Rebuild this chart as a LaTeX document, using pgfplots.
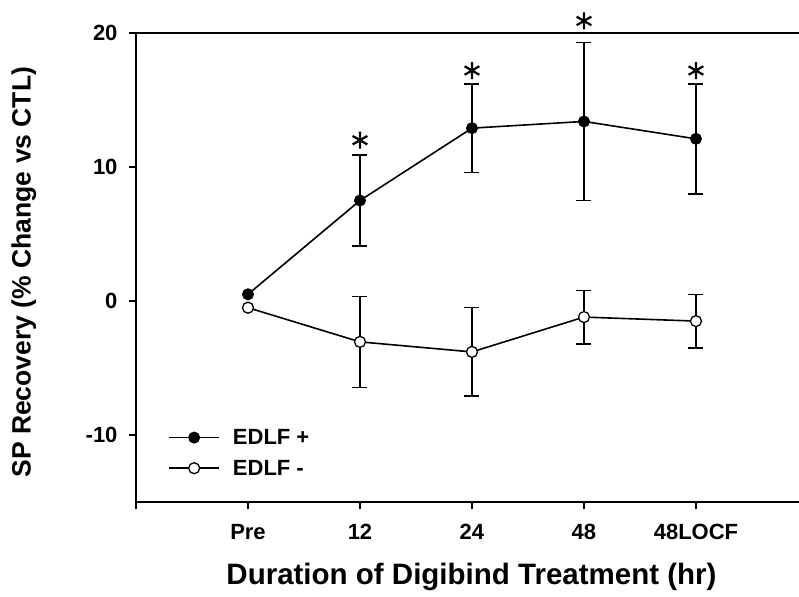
\documentclass[border=0pt]{standalone}
\usepackage{fontspec}
\setmainfont{Liberation Sans}
\usepackage{pgfplots}
\pgfplotsset{compat=1.18}
\pgfplotstableread{
x y e
1 7.5 3.4
2 12.9 3.3
3 13.4 5.9
4 12.1 4.1
}\plusErr
\pgfplotstableread{
x y e
1 -3.05 3.4
2 -3.8 3.3
3 -1.2 2.0
4 -1.5 2.0
}\minusErr
\begin{document}
\begin{tikzpicture}
\path[use as bounding box] (0,0) rectangle (799bp,597bp);
\begin{axis}[
 at={(136bp,95bp)}, anchor=south west,
 scale only axis, width=663bp, height=469bp,
 xmin=-1, xmax=4.92, ymin=-15, ymax=20,
 axis x line=box, axis y line=left,
 axis line style={-, line width=1.6bp},
 xtick={-1,0,1,2,3,4}, xticklabels={,Pre,12,24,48,48LOCF},
 ytick={-10,0,10,20}, yticklabels={-10,0,10,20},
 xtick pos=left, ytick pos=left,
 tick align=outside, major tick length=7bp,
 tick style={line width=1.2bp, black},
 ticklabel style={font=\fontsize{22bp}{26bp}\selectfont\bfseries},
 xticklabel style={yshift=-12bp},
 yticklabel style={xshift=-8bp},
 xlabel={Duration of Digibind Treatment (hr)},
 ylabel={SP Recovery (\% Change vs CTL)},
 xlabel style={font=\fontsize{29.5bp}{34bp}\selectfont\bfseries, at={(axis description cs:0.506,0)}, anchor=base, yshift=-82bp},
 ylabel style={font=\fontsize{26.5bp}{30bp}\selectfont\bfseries, at={(axis description cs:-0.169,0.49)}, anchor=center},
 clip=false,
 legend style={draw=none, fill=none, at={(axis description cs:0.044,0.164)}, anchor=north west, font=\fontsize{22bp}{26bp}\selectfont\bfseries, row sep=10bp},
 legend cell align=left,
 legend image code/.code={\path (61bp,0bp); \draw[mark repeat=2,mark phase=2,#1] plot coordinates {(0bp,0bp) (25bp,0bp) (50bp,0bp)};},
]
% error bars
\addplot[only marks, mark=none, forget plot,
  error bars/.cd, y dir=both, y explicit,
  error bar style={draw=black, line width=1.5bp},
  error mark options={rotate=90, mark size=7.5bp, line width=1.5bp, draw=black}]
  table[x=x, y=y, y error=e] {\plusErr};
\addplot[only marks, mark=none, forget plot,
  error bars/.cd, y dir=both, y explicit,
  error bar style={draw=black, line width=1.5bp},
  error mark options={rotate=90, mark size=7.5bp, line width=1.5bp, draw=black}]
  table[x=x, y=y, y error=e] {\minusErr};
% lines
\addplot[black, line width=1.6bp, mark=*, mark size=5.5bp, mark options={fill=black, draw=black, line width=1bp}]
  coordinates {(0,0.5) (1,7.5) (2,12.9) (3,13.4) (4,12.1)};
\addlegendentry{EDLF +}
\addplot[black, line width=1.6bp, mark=*, mark size=5.5bp, mark options={fill=white, draw=black, line width=1.3bp}]
  coordinates {(0,-0.5) (1,-3.05) (2,-3.8) (3,-1.2) (4,-1.5)};
\addlegendentry{EDLF -}
% significance asterisks
\addplot[only marks, mark=asterisk, mark size=8.5bp, mark options={line width=2.2bp, black}, forget plot]
  coordinates {(1,12.0) (2,17.2) (3,20.9) (4,17.2)};
\end{axis}
\end{tikzpicture}
\end{document}
